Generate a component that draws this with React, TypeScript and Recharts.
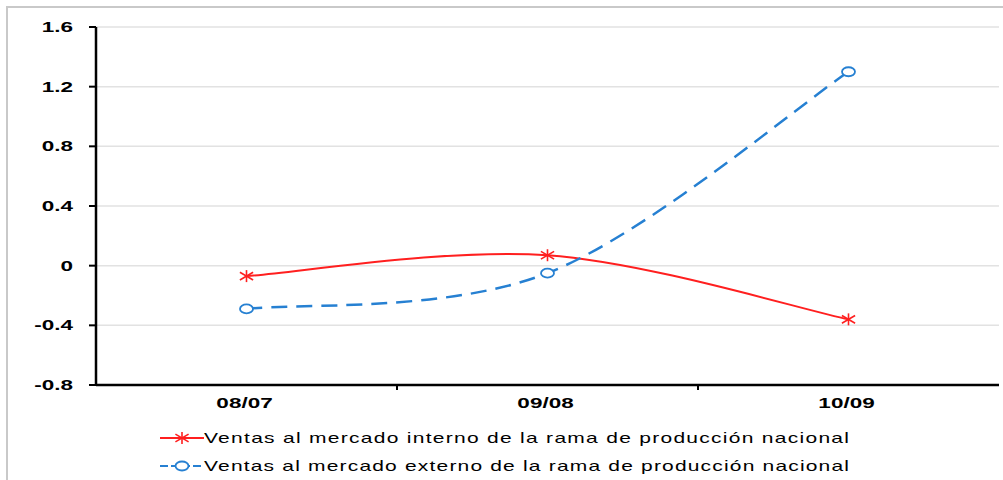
import React from 'react'
import { LineChart, Line, XAxis, YAxis, CartesianGrid } from 'recharts'

const periods = ['08/07', '09/08', '10/09']
const ventasInterno = [-0.07, 0.07, -0.36]
const ventasExterno = [-0.29, -0.05, 1.3]
const yTicks = [-0.8, -0.4, 0, 0.4, 0.8, 1.2, 1.6]

const seriesNames = [
  'Ventas al mercado interno de la rama de producción nacional',
  'Ventas al mercado externo de la rama de producción nacional',
]

const RED = '#ff1f1f'
const BLUE = '#2680d2'

const W = 1003
const H = 480
const X_AXIS_H = 30
const MARGIN = { top: 27, right: 4, left: 0, bottom: 95 - X_AXIS_H }
const Y_AXIS_W = 96
const BAND = (W - MARGIN.left - MARGIN.right - Y_AXIS_W) / periods.length
const STRETCH = 1.5

const data = periods.map((p, i) => ({
  period: p,
  interno: ventasInterno[i],
  externo: ventasExterno[i],
}))

// smoothed line in the spreadsheet style: Catmull-Rom segments as cubic beziers
const smoothCurve = (context: any) => {
  let xs: number[] = []
  let ys: number[] = []
  return {
    areaStart() {},
    areaEnd() {},
    lineStart() {
      xs = []
      ys = []
    },
    point(x: number, y: number) {
      xs.push(+x)
      ys.push(+y)
    },
    lineEnd() {
      const n = xs.length
      if (!n) return
      context.moveTo(xs[0], ys[0])
      for (let i = 0; i < n - 1; i++) {
        const a = i > 0 ? i - 1 : i
        const d = i + 2 < n ? i + 2 : i + 1
        context.bezierCurveTo(
          xs[i] + (xs[i + 1] - xs[a]) / 6,
          ys[i] + (ys[i + 1] - ys[a]) / 6,
          xs[i + 1] - (xs[d] - xs[i]) / 6,
          ys[i + 1] - (ys[d] - ys[i]) / 6,
          xs[i + 1],
          ys[i + 1],
        )
      }
    },
  }
}

const tickFont = {
  fontFamily: '"Liberation Sans", Arial, sans-serif',
  fontWeight: 700,
  fontSize: 15,
}

const YTick = ({ x, y, payload }: any) => {
  const v = payload.value
  const label = v === 0 ? '0' : v.toFixed(1)
  return (
    <g transform={`translate(${x - 14},${y}) scale(${STRETCH},1)`}>
      <text x={0} y={0} dy={5} textAnchor="end" fill="#000" style={tickFont}>
        {label}
      </text>
    </g>
  )
}

// category ticks sit between the bands, labels centred on them
const XTick = ({ x, y, payload, index }: any) => (
  <g>
    {index < periods.length - 1 && (
      <line x1={x + BAND / 2} x2={x + BAND / 2} y1={y - 8} y2={y - 3} stroke="#000" strokeWidth={2} />
    )}
    <g transform={`translate(${x - 2},${y}) scale(${STRETCH},1)`}>
      <text x={0} y={0} dy={15} textAnchor="middle" fill="#000" style={tickFont}>
        {payload.value}
      </text>
    </g>
  </g>
)

const Asterisk = ({ cx, cy, stroke }: any) => {
  if (cx == null || cy == null) return null
  const r = 6
  return (
    <g stroke={stroke} strokeWidth={1.6}>
      <line x1={cx - r * 1.1} y1={cy - r * 0.65} x2={cx + r * 1.1} y2={cy + r * 0.65} />
      <line x1={cx - r * 1.1} y1={cy + r * 0.65} x2={cx + r * 1.1} y2={cy - r * 0.65} />
      <line x1={cx} y1={cy - r} x2={cx} y2={cy + r} />
    </g>
  )
}

const OpenCircle = ({ cx, cy, stroke }: any) => {
  if (cx == null || cy == null) return null
  return <ellipse cx={cx} cy={cy} rx={6.5} ry={4.5} fill="#fff" stroke={stroke} strokeWidth={1.8} />
}

const LegendRow = ({ y, color, dashed, marker, text }: any) => (
  <g>
    <line x1={160} x2={204} y1={y} y2={y} stroke={color} strokeWidth={2} strokeDasharray={dashed ? '8 3' : undefined} />
    {marker === 'star' ? (
      <Asterisk cx={182} cy={y} stroke={color} />
    ) : (
      <OpenCircle cx={182} cy={y} stroke={color} />
    )}
    <g transform={`translate(204,${y}) scale(${STRETCH},1)`}>
      <text
        x={0}
        y={0}
        dy={5}
        textLength={645 / STRETCH}
        lengthAdjust="spacing"
        style={{ fontFamily: '"Liberation Sans", Arial, sans-serif', fontSize: 14, fontWeight: 500 }}
        fill="#000"
      >
        {text}
      </text>
    </g>
  </g>
)

export default function App() {
  return (
    <div style={{ position: 'absolute', left: 0, top: 0, width: W, height: H, background: '#fff', overflow: 'hidden' }}>
      <div
        style={{
          position: 'absolute',
          left: 6,
          top: 6,
          width: W,
          height: H,
          border: '2px solid #c9c9c9',
        }}
      />
      <div style={{ position: 'absolute', left: 0, top: 0 }}>
        <LineChart width={W} height={H} data={data} margin={MARGIN}>
          <CartesianGrid vertical={false} stroke="#e2e2e2" strokeWidth={1.5} />
          <XAxis
            dataKey="period"
            height={X_AXIS_H}
            padding={{ left: BAND / 2, right: BAND / 2 }}
            axisLine={{ stroke: '#000', strokeWidth: 2.5 }}
            tickLine={false}
            tickSize={6}
            tickMargin={2}
            tick={<XTick />}
            interval={0}
          />
          <YAxis
            width={Y_AXIS_W}
            domain={[-0.8, 1.6]}
            ticks={yTicks}
            allowDataOverflow
            axisLine={{ stroke: '#000', strokeWidth: 2.5 }}
            tickLine={{ stroke: '#000', strokeWidth: 2 }}
            tickSize={7}
            tickMargin={2}
            tick={<YTick />}
          />
          <Line
            type={smoothCurve as any}
            dataKey="interno"
            stroke={RED}
            strokeWidth={2}
            dot={<Asterisk stroke={RED} />}
            isAnimationActive={false}
          />
          <Line
            type={smoothCurve as any}
            dataKey="externo"
            stroke={BLUE}
            strokeWidth={2.5}
            strokeDasharray="16 9"
            dot={<OpenCircle stroke={BLUE} />}
            isAnimationActive={false}
          />
        </LineChart>
      </div>
      <svg width={W} height={60} style={{ position: 'absolute', left: 0, top: 420 }}>
        <LegendRow y={18} color={RED} marker="star" text={seriesNames[0]} />
        <LegendRow y={46} color={BLUE} dashed marker="circle" text={seriesNames[1]} />
      </svg>
    </div>
  )
}
